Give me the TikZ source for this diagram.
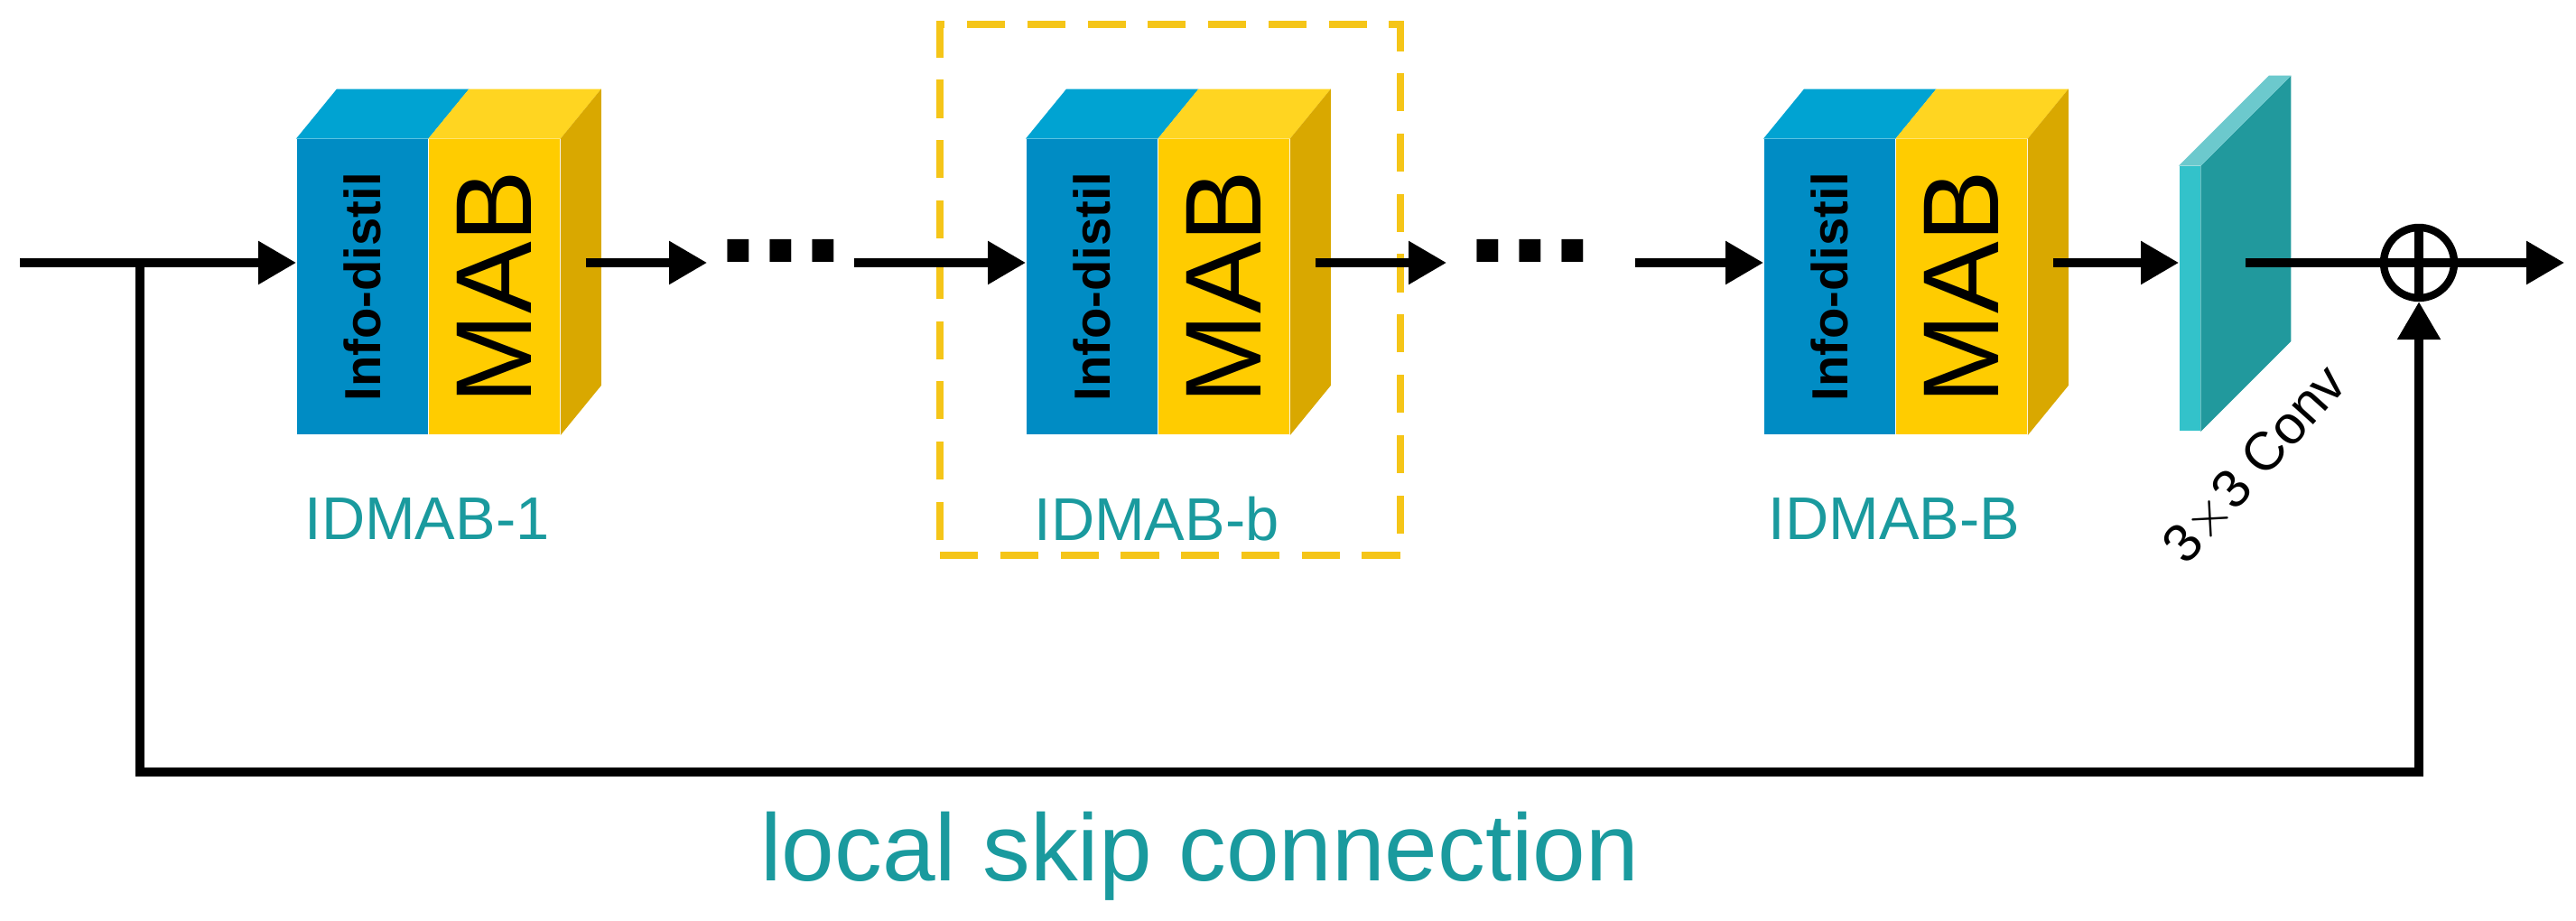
\documentclass[tikz,border=0pt]{standalone}
\usepackage{fontspec}
\setmainfont{Liberation Sans}
\usetikzlibrary{calc,positioning,arrows.meta}
\definecolor{infoblue}{HTML}{008CC4}
\definecolor{infotop}{HTML}{00A3D2}
\definecolor{mabyellow}{HTML}{FFCC00}
\definecolor{mabtop}{HTML}{FFD521}
\definecolor{mabside}{HTML}{D9A800}
\definecolor{convfront}{HTML}{33C2CA}
\definecolor{convside}{HTML}{21999D}
\definecolor{convtop}{HTML}{6CC9CD}
\definecolor{labelteal}{HTML}{1A9A9E}
\definecolor{boxyellow}{HTML}{F5C518}

\begin{document}
\begin{tikzpicture}
%% page frame
\useasboundingbox (0,0) rectangle (28.53,10.2);
\tikzset{
  arc/.style={-{Triangle[length=4.2mm,width=4.6mm]},line width=2.6pt},
  line/.style={line width=2.6pt},
  front/.style={anchor=south west,minimum width=1.45cm,minimum height=3.27cm,inner sep=0pt},
  infoface/.style={front,fill=infoblue,font=\fontsize{16}{16}\bfseries},
  mabface/.style={front,fill=mabyellow,font=\fontsize{34}{34}\selectfont},
  blocklabel/.style={text=labelteal,font=\fontsize{19}{19}\selectfont},
  dots/.style={font=\fontsize{30}{30}\bfseries,scale=1.6},
}
%% one IDMAB block: #1 = left x, #2 = index
\newcommand{\idmabblock}[2]{
  \node[infoface] (b#2) at (#1,5.38) {\rotatebox{90}{Info-distil}};
  \node[mabface] (m#2) at (b#2.south east) {\rotatebox{90}{MAB}};
  \fill[infotop] (b#2.north west) -- ++(0.45,0.55) -- ($(b#2.north east)+(0.45,0.55)$) -- (b#2.north east) -- cycle;
  \fill[mabtop] (m#2.north west) -- ++(0.45,0.55) -- ($(m#2.north east)+(0.45,0.55)$) -- (m#2.north east) -- cycle;
  \fill[mabside] (m#2.north east) -- ++(0.45,0.55) -- ($(m#2.south east)+(0.45,0.55)$) -- (m#2.south east) -- cycle;
}
%% blocks
\idmabblock{3.28}{1}
\idmabblock{11.36}{2}
\idmabblock{19.53}{3}
\node[blocklabel] (l1) at (4.73,4.45) {IDMAB-1};
\node[blocklabel] (l2) at (12.81,4.45) {IDMAB-b};
\node[blocklabel] (l3) at (20.98,4.45) {IDMAB-B};
%% dashed frame round the middle block
\node[draw=boxyellow,dash pattern=on 12pt off 7pt,line width=2.2pt,minimum width=5.1cm,minimum height=5.88cm] (frame) at (12.96,6.99) {};
%% 3x3 conv plate
\node[anchor=south west,fill=convfront,minimum width=0.23cm,minimum height=2.93cm,inner sep=0pt] (conv) at (24.13,5.42) {};
\fill[convside] (conv.north east) -- ++(1.0,1.0) -- ($(conv.south east)+(1.0,1.0)$) -- (conv.south east) -- cycle;
\fill[convtop] (conv.north west) -- ++(1.0,1.0) -- ($(conv.north east)+(1.0,1.0)$) -- (conv.north east) -- cycle;
\node[rotate=48,font=\fontsize{17}{17}\selectfont] (convlabel) at (24.98,5.05) {3${\times}$3 Conv};
%% main path
\coordinate (in) at (0.22,7.29);
\coordinate (skip) at (1.55,7.29);
\coordinate (out) at (28.4,7.29);
\node[dots] (d1) at (8.65,7.42) {...};
\node[dots] (d2) at (16.95,7.42) {...};
\node[draw,circle,line width=2.4pt,minimum size=0.78cm] (plus) at (26.79,7.29) {};
\draw[line] (plus.north) -- (plus.south);
\draw[arc] (in) -- (in -| b1.west);
\draw[arc] ([xshift=2.8mm]m1.east |- in) -- (7.83,7.29);
\draw[arc] (9.46,7.29) -- (in -| b2.west);
\draw[arc] ([xshift=2.8mm]m2.east |- in) -- (16.02,7.29);
\draw[arc] (18.11,7.29) -- (in -| b3.west);
\draw[arc] ([xshift=2.8mm]m3.east |- in) -- (in -| conv.west);
\draw[arc] ([xshift=5mm]conv.east |- in) -- (out);
%% local skip
\draw[arc] (skip) -- (1.55,1.65) -| (plus.south);
\node[text=labelteal,font=\fontsize{30}{30}\selectfont] (skiplabel) at (13.29,0.72) {local skip connection};
\end{tikzpicture}
\end{document}
